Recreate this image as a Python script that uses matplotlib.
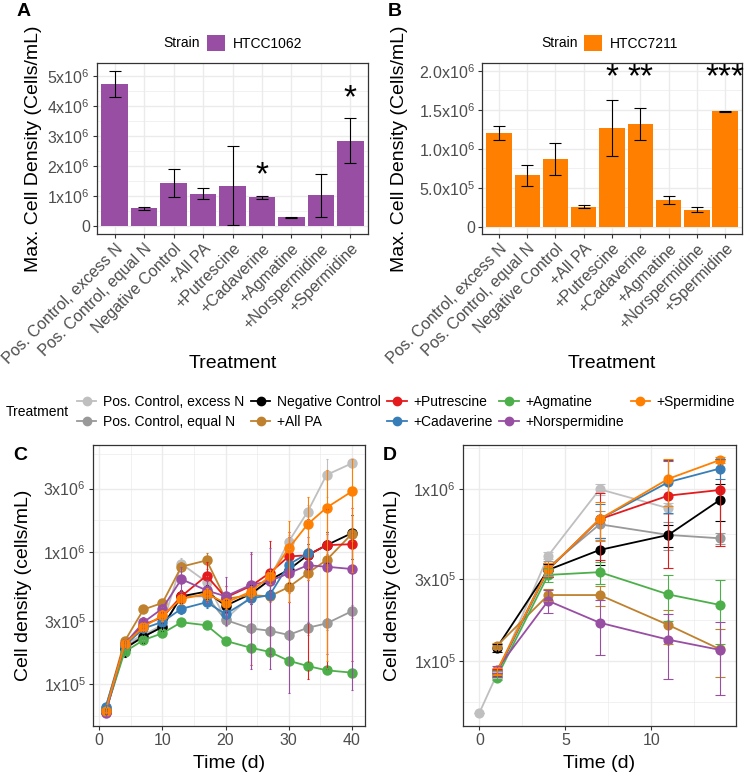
import numpy as np
import matplotlib
matplotlib.use("Agg")
import matplotlib.pyplot as plt
from matplotlib.patches import Patch
from matplotlib.lines import Line2D
from matplotlib.ticker import NullFormatter

plt.rcParams["font.family"] = ["Liberation Sans", "DejaVu Sans"]
plt.rcParams["mathtext.fontset"] = "custom"
plt.rcParams["mathtext.rm"] = "Liberation Sans"
plt.rcParams["mathtext.it"] = "Liberation Sans:italic"
plt.rcParams["mathtext.bf"] = "Liberation Sans:bold"

# ---- data ----
treatments = ["Pos. Control, excess N", "Pos. Control, equal N", "Negative Control",
              "+All PA", "+Putrescine", "+Cadaverine", "+Agmatine",
              "+Norspermidine", "+Spermidine"]
colors = ["#BFBFBF", "#999999", "#000000", "#BF812D", "#E41A1C",
          "#377EB8", "#4DAF4A", "#984EA3", "#FF7F00"]

# panel A: HTCC1062 max density
a_mean = [4.73e6, 0.59e6, 1.44e6, 1.08e6, 1.35e6, 0.97e6, 0.29e6, 1.03e6, 2.85e6]
a_sd = [0.44e6, 0.04e6, 0.46e6, 0.18e6, 1.31e6, 0.05e6, 0.025e6, 0.72e6, 0.74e6]
a_sig = ["", "", "", "", "", "*", "", "", "*"]

# panel B: HTCC7211 max density
b_mean = [1.20e6, 0.66e6, 0.87e6, 0.26e6, 1.265e6, 1.325e6, 0.35e6, 0.22e6, 1.48e6]
b_sd = [0.09e6, 0.14e6, 0.21e6, 0.02e6, 0.355e6, 0.205e6, 0.05e6, 0.03e6, 0.01e6]
b_sig = ["", "", "", "", "*", "**", "", "", "***"]

# panel C: HTCC1062 growth curves
nan = np.nan
time_c = [1, 4, 7, 10, 13, 17, 20, 24, 27, 30, 33, 36, 40]
c_excess = [6.4e4, 2.0e5, 2.35e5, 2.8e5, 8.1e5, 5.9e5, 3.1e5, 4.6e5, 6.3e5, 1.19e6, 2.0e6, 3.8e6, 4.65e6]
c_equal = [6.3e4, 1.9e5, 2.3e5, 2.7e5, 4.6e5, 4.6e5, 3.05e5, 2.63e5, 2.53e5, 2.35e5, 2.66e5, 2.87e5, 3.55e5]
c_neg = [6.2e4, 1.85e5, 2.28e5, 2.7e5, 4.6e5, 5.0e5, 3.9e5, 4.8e5, 6.1e5, 7.3e5, 9.4e5, 1.12e6, 1.38e6]
c_allpa = [6.6e4, 2.1e5, 3.66e5, 4.1e5, 7.7e5, 8.6e5, 4.4e5, 4.7e5, 4.6e5, 5.4e5, 6.86e5, 8.65e5, 1.36e6]
c_put = [6.3e4, 2.0e5, 2.8e5, 3.2e5, 4.6e5, 6.6e5, 4.5e5, 5.5e5, 6.9e5, 9.2e5, 9.4e5, 1.12e6, 1.14e6]
c_cad = [6.7e4, 1.95e5, 2.63e5, 2.95e5, 3.7e5, 4.15e5, 3.38e5, 4.43e5, 4.7e5, 8.0e5, 9.7e5, nan, nan]
c_agm = [6.2e4, 1.75e5, 2.15e5, 2.42e5, 2.93e5, 2.78e5, 2.12e5, 1.88e5, 1.75e5, 1.5e5, 1.37e5, 1.27e5, 1.22e5]
c_norsp = [6.0e4, 2.0e5, 2.93e5, 3.72e5, 6.2e5, 5.1e5, 4.6e5, 5.6e5, 6.0e5, 6.86e5, 7.9e5, 7.7e5, 7.4e5]
c_sperm = [6.3e4, 2.0e5, 2.7e5, 3.3e5, 4.4e5, 4.8e5, 4.1e5, 5.0e5, 6.5e5, 1.06e6, 1.61e6, 2.15e6, 2.85e6]

c_excess_sd = [3e3, 1e4, 2e4, 2e4, 8e4, 6e4, 3e4, 5e4, 6e4, 1.5e5, 2.5e5, 1.2e6, 3e5]
c_equal_sd = [3e3, 1e4, 2e4, 2e4, 4e4, 4e4, 3e4, 2e4, 2e4, 2e4, 3e4, 3e4, 4e4]
c_neg_sd = [3e3, 2.5e4, 2.5e4, 2e4, 5e4, 6e4, 4e4, 8e4, 1e5, 1.5e5, 2e5, 3e5, 5e5]
c_allpa_sd = [3e3, 1e4, 2e4, 3e4, 6e4, 1.2e5, 4e4, 4e4, 4e4, 5e4, 8e4, 1e5, 1.5e5]
c_put_sd = [3e3, 1e4, 3e4, 3e4, 5e4, 1.8e5, 1e5, 4.1e5, 5.2e5, 5e5, 8.3e5, 9.9e5, 9.9e5]
c_cad_sd = [3e3, 1e4, 2e4, 2e4, 3e4, 4e4, 3e4, 4e4, 4e4, 8e4, 1e5, nan, nan]
c_agm_sd = [3e3, 1e4, 1.5e4, 1.5e4, 1.5e4, 1.5e4, 1e4, 1e4, 1e4, 8e3, 7e3, 6e3, 6e3]
c_norsp_sd = [3e3, 1e4, 3e4, 3e4, 1.5e5, 1e5, 1.8e5, 4.3e5, 4.7e5, 6.0e5, 5e5, 6e5, 6.5e5]
c_sperm_sd = [3e3, 1e4, 2e4, 3e4, 4e4, 5e4, 4e4, 5e4, 8e4, 6.4e5, 1.0e6, 2.0e6, 2.15e6]

# panel D: HTCC7211 growth curves
time_d = [0, 1, 4, 7, 11, 14]
d_excess = [5.0e4, 8.3e4, 4.1e5, 1.0e6, 7.75e5, nan]
d_equal = [nan, 8.5e4, 3.5e5, 6.25e5, 5.42e5, 5.18e5]
d_neg = [nan, 1.19e5, 3.39e5, 4.43e5, 5.42e5, 8.66e5]
d_allpa = [nan, 1.22e5, 2.42e5, 2.42e5, 1.62e5, 1.17e5]
d_put = [nan, 8.6e4, 3.4e5, 6.69e5, 9.18e5, 9.9e5]
d_cad = [nan, 8.5e4, 3.4e5, 6.7e5, 1.1e6, 1.32e6]
d_agm = [nan, 8.0e4, 3.17e5, 3.29e5, 2.44e5, 2.12e5]
d_norsp = [nan, 8.9e4, 2.24e5, 1.67e5, 1.33e5, 1.16e5]
d_sperm = [nan, 8.7e4, 3.42e5, 6.7e5, 1.15e6, 1.48e6]

d_excess_sd = [0, 3e3, 2e4, 7e4, 6e4, nan]
d_equal_sd = [nan, 4e3, 3e4, 1.2e5, 1e5, 4e4]
d_neg_sd = [nan, 6e3, 3e4, 8e4, 8e4, 2.1e5]
d_allpa_sd = [nan, 5e3, 2e4, 3.2e4, 3.7e4, 3.6e4]
d_put_sd = [nan, 4e3, 3e4, 2.8e5, 5.7e5, 5.2e5]
d_cad_sd = [nan, 4e3, 3e4, 1.5e5, 3.7e5, 1.8e5]
d_agm_sd = [nan, 3e3, 3e4, 5e4, 7.3e4, 8.6e4]
d_norsp_sd = [nan, 4e3, 3.4e4, 5.8e4, 5.4e4, 5.3e4]
d_sperm_sd = [nan, 4e3, 3e4, 1.7e5, 3.5e5, 6e4]

c_series = [c_excess, c_equal, c_neg, c_allpa, c_put, c_cad, c_agm, c_norsp, c_sperm]
c_sds = [c_excess_sd, c_equal_sd, c_neg_sd, c_allpa_sd, c_put_sd, c_cad_sd, c_agm_sd, c_norsp_sd, c_sperm_sd]
d_series = [d_excess, d_equal, d_neg, d_allpa, d_put, d_cad, d_agm, d_norsp, d_sperm]
d_sds = [d_excess_sd, d_equal_sd, d_neg_sd, d_allpa_sd, d_put_sd, d_cad_sd, d_agm_sd, d_norsp_sd, d_sperm_sd]

# ---- figure ----
W, H = 750, 776
fig = plt.figure(figsize=(W / 100, H / 100), dpi=100)


def axes_px(x0, y0, x1, y1):
    return fig.add_axes([x0 / W, 1 - y1 / H, (x1 - x0) / W, (y1 - y0) / H])


def theme_bw(ax):
    ax.set_facecolor("white")
    for s in ax.spines.values():
        s.set_color("#333333")
        s.set_linewidth(0.9)
    ax.grid(True, which="major", color="#EBEBEB", lw=1.0)
    ax.grid(True, which="minor", color="#EBEBEB", lw=0.5)
    ax.set_axisbelow(True)
    ax.tick_params(which="major", length=3, width=0.8, color="#333333",
                   labelcolor="#4D4D4D", labelsize=11.5, pad=2)
    ax.tick_params(which="minor", length=0)


def set_labels(ax, ylabel, ylab_x, xlabel, xlab_y):
    ax.set_ylabel(ylabel, fontsize=14)
    ax.yaxis.set_label_coords(ylab_x, 0.5)
    ax.yaxis.label.set_va("center")
    ax.set_xlabel(xlabel, fontsize=14)
    ax.xaxis.set_label_coords(0.5, xlab_y)
    ax.xaxis.label.set_va("center")


def bar_panel(ax, mean, sd, color, yticks, ylabels, ylim, label_x):
    theme_bw(ax)
    x = np.arange(len(treatments))
    ax.bar(x, mean, width=0.9, color=color, zorder=2)
    ax.errorbar(x, mean, yerr=sd, fmt="none", ecolor="black", elinewidth=0.8,
                capsize=4, capthick=0.8, zorder=3)
    ax.set_xlim(-0.6, len(x) - 0.4)
    ax.set_ylim(*ylim)
    ax.set_xticks(x)
    ax.set_xticklabels(treatments, rotation=45, ha="right", rotation_mode="anchor")
    ax.set_yticks(yticks)
    ax.set_yticklabels(ylabels)
    ax.set_yticks([(a + b) / 2 for a, b in zip(yticks[:-1], yticks[1:])], minor=True)
    set_labels(ax, "Max. Cell Density (Cells/mL)", label_x, "Treatment", -0.756)


def strain_key(x_text, x_box, y, strain, color):
    fig.text(x_text / W, 1 - y / H, "Strain", fontsize=10, ha="left", va="center")
    fig.legend(handles=[Patch(facecolor=color, edgecolor="none", label=strain)],
               loc="center left", bbox_to_anchor=(x_box / W, 1 - y / H),
               frameon=False, fontsize=10, handlelength=1.3, handleheight=1.3,
               handletextpad=0.55, borderpad=0, borderaxespad=0)


def line_panel(ax, t, series, sds, capsize, ms, xlim, ylim, xticks, xminor, yminor):
    theme_bw(ax)
    ax.set_yscale("log")
    for vals, sd, col in zip(series, sds, colors):
        ax.plot(t, vals, "-o", color=col, lw=1.3, ms=ms, zorder=2)
    for vals, sd, col in zip(series, sds, colors):
        vals = np.array(vals, float)
        sd = np.array(sd, float)
        lo = np.clip(vals - sd, 1e3, None)
        ax.errorbar(t, vals, yerr=[vals - lo, sd], fmt="none", ecolor=col,
                    elinewidth=0.8, capsize=capsize, capthick=0.8, zorder=3)
    ax.set_xlim(*xlim)
    ax.set_xticks(xticks)
    ax.set_xticks(xminor, minor=True)
    ax.set_yticks([1e5, 3e5, 1e6, 3e6])
    ax.set_yticklabels(["1x10$^5$", "3x10$^5$", "1x10$^6$", "3x10$^6$"])
    ax.set_yticks([10 ** e for e in yminor], minor=True)
    ax.yaxis.set_minor_formatter(NullFormatter())
    ax.set_ylim(*ylim)
    set_labels(ax, "Cell density (cells/mL)", -0.257, "Time (d)", -0.133)


# A
axA = axes_px(97, 63, 368, 234)
bar_panel(axA, a_mean, a_sd, "#984EA3",
          [0, 1e6, 2e6, 3e6, 4e6, 5e6],
          ["0", "1x10$^6$", "2x10$^6$", "3x10$^6$", "4x10$^6$", "5x10$^6$"],
          (-0.26e6, 5.43e6), -0.234)
for i, s in enumerate(a_sig):
    if s:
        axA.annotate(s, (i, a_mean[i] + a_sd[i]), xytext=(0, 8), textcoords="offset points",
                     ha="center", va="baseline", fontsize=24, annotation_clip=False)
strain_key(163, 207, 43, "HTCC1062", "#984EA3")

# B
axB = axes_px(482, 63, 742, 234)
bar_panel(axB, b_mean, b_sd, "#FF7F00",
          [0, 5e5, 1e6, 1.5e6, 2e6],
          ["0", "5.0x10$^5$", "1.0x10$^6$", "1.5x10$^6$", "2.0x10$^6$"],
          (-0.09e6, 2.1e6), -0.319)
for i, s in enumerate(b_sig):
    if s:
        axB.annotate(s, (i, 2.0e6), xytext=(0, -11), textcoords="offset points",
                     ha="center", va="baseline", fontsize=24, annotation_clip=False)
strain_key(541, 584, 43, "HTCC7211", "#FF7F00")

# C
axC = axes_px(93, 445, 365, 726)
line_panel(axC, time_c, c_series, c_sds, 0.8, 6.5, (-1.0, 42.1), (4.82e4, 6.4e6),
           [0, 10, 20, 30, 40], [5, 15, 25, 35], [4.761, 5.239, 5.739, 6.239, 6.739])

# D
axD = axes_px(463, 445, 736, 726)
line_panel(axD, time_d, d_series, d_sds, 3.5, 6.3, (-0.96, 14.94), (4.18e4, 1.81e6),
           [0, 5, 10], [2.5, 7.5, 12.5], [4.761, 5.239, 5.739, 6.239])

# treatment legend
fig.text(6 / W, 1 - 412 / H, "Treatment", fontsize=10, ha="left", va="center")
handles = [Line2D([], [], color=c, marker="o", lw=1.3, ms=6, label=t)
           for t, c in zip(treatments, colors)]
fig.legend(handles=handles, ncol=5, loc="center left", bbox_to_anchor=(77 / W, 1 - 412 / H),
           frameon=False, fontsize=10, handlelength=1.4, handletextpad=0.45,
           columnspacing=0.5, labelspacing=0.4, borderpad=0, borderaxespad=0)

# panel letters
for letter, x, y in [("A", 17, 12), ("B", 388, 12), ("C", 13, 455), ("D", 383, 455)]:
    fig.text(x / W, 1 - y / H, letter, fontsize=14, fontweight="bold", ha="left", va="center")

fig.savefig("out.png", dpi=100)
